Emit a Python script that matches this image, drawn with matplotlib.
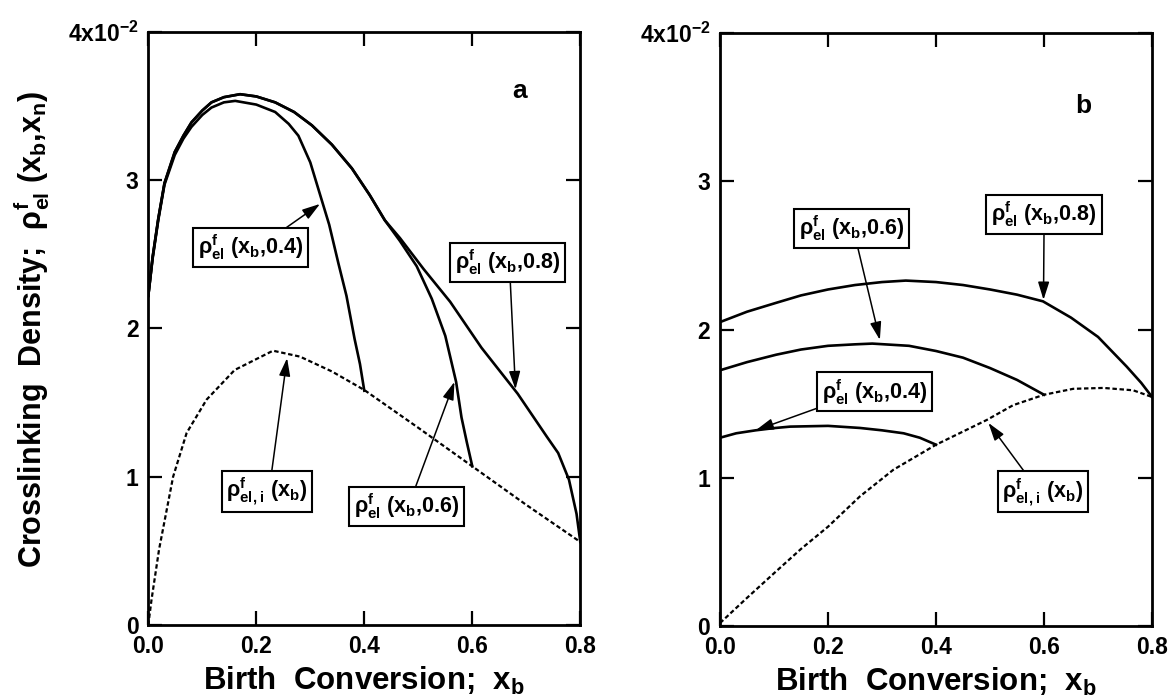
import matplotlib
matplotlib.use('Agg')
import matplotlib.pyplot as plt

plt.rcParams['font.family'] = ['Liberation Sans', 'DejaVu Sans']
plt.rcParams['font.weight'] = 'bold'
plt.rcParams['mathtext.default'] = 'regular'

# ---- panel a ----
a08_x = [0, 0.008, 0.0185, 0.03, 0.049, 0.065, 0.08, 0.1, 0.117, 0.14, 0.17, 0.2, 0.235,
         0.27, 0.303, 0.34, 0.377, 0.41, 0.438, 0.466, 0.51, 0.559, 0.617, 0.684, 0.738,
         0.759, 0.779, 0.793, 0.8]
a08_y = [2.22, 2.48, 2.74, 2.98, 3.19, 3.30, 3.39, 3.47, 3.525, 3.56, 3.58, 3.565, 3.525,
         3.46, 3.37, 3.24, 3.08, 2.90, 2.73, 2.61, 2.40, 2.18, 1.87, 1.56, 1.27,
         1.16, 0.98, 0.75, 0.56]

a06_x = [0, 0.008, 0.0185, 0.03, 0.049, 0.065, 0.08, 0.1, 0.117, 0.14, 0.17, 0.2, 0.235,
         0.27, 0.303, 0.34, 0.377, 0.41, 0.438, 0.466, 0.497, 0.525, 0.55, 0.57, 0.58,
         0.59, 0.6]
a06_y = [2.22, 2.48, 2.74, 2.98, 3.19, 3.30, 3.39, 3.47, 3.525, 3.56, 3.58, 3.565, 3.525,
         3.46, 3.37, 3.24, 3.08, 2.90, 2.73, 2.59, 2.42, 2.20, 1.95, 1.64, 1.40,
         1.23, 1.07]

a04_x = [0, 0.008, 0.0185, 0.03, 0.049, 0.065, 0.08, 0.1, 0.117, 0.14, 0.161, 0.2, 0.235,
         0.26, 0.278, 0.3, 0.315, 0.335, 0.352, 0.367, 0.382, 0.392, 0.4]
a04_y = [2.22, 2.47, 2.73, 2.97, 3.17, 3.28, 3.36, 3.44, 3.49, 3.525, 3.535, 3.51, 3.46,
         3.38, 3.30, 3.12, 2.94, 2.70, 2.44, 2.22, 1.93, 1.76, 1.58]

ai_x = [0, 0.006, 0.02, 0.046, 0.071, 0.108, 0.16, 0.231, 0.281, 0.34, 0.4, 0.5, 0.6,
        0.7, 0.8]
ai_y = [0, 0.17, 0.51, 1.0, 1.295, 1.52, 1.72, 1.85, 1.81, 1.71, 1.585, 1.33, 1.07,
        0.81, 0.56]

# ---- panel b ----
b08_x = [0, 0.05, 0.104, 0.15, 0.2, 0.25, 0.3, 0.344, 0.4, 0.45, 0.5, 0.55, 0.598, 0.65,
         0.7, 0.753, 0.78, 0.8]
b08_y = [2.05, 2.12, 2.18, 2.23, 2.27, 2.30, 2.32, 2.33, 2.32, 2.30, 2.27, 2.235, 2.19, 2.08,
         1.95, 1.75, 1.64, 1.545]

b06_x = [0, 0.05, 0.104, 0.15, 0.2, 0.25, 0.282, 0.35, 0.4, 0.45, 0.5, 0.55, 0.6]
b06_y = [1.725, 1.78, 1.83, 1.865, 1.89, 1.90, 1.905, 1.89, 1.855, 1.81, 1.74, 1.66, 1.56]

b04_x = [0, 0.03, 0.066, 0.1, 0.13, 0.2, 0.259, 0.3, 0.34, 0.37, 0.4]
b04_y = [1.27, 1.30, 1.32, 1.335, 1.345, 1.35, 1.336, 1.32, 1.30, 1.27, 1.223]

bi_x = [0, 0.05, 0.1, 0.15, 0.2, 0.259, 0.321, 0.4, 0.494, 0.543, 0.6, 0.654, 0.71, 0.765,
        0.8]
bi_y = [0.02, 0.19, 0.356, 0.52, 0.67, 0.874, 1.054, 1.223, 1.39, 1.49, 1.56, 1.60, 1.606,
        1.59, 1.545]

xticks = [0, 0.2, 0.4, 0.6, 0.8]
xtick_labels = ['0.0', '0.2', '0.4', '0.6', '0.8']
yticks = [0, 1, 2, 3, 4]
ytick_labels = ['0', '1', '2', '3', '4x10$^{-2}$']

lab04 = r'$\rho^{f}_{el}$ (x$_b$,0.4)'
lab06 = r'$\rho^{f}_{el}$ (x$_b$,0.6)'
lab08 = r'$\rho^{f}_{el}$ (x$_b$,0.8)'
labi = r'$\rho^{f}_{el,i}$ (x$_b$)'

fig = plt.figure(figsize=(11.74, 6.99), dpi=100)
ax1 = fig.add_axes([0.1263, 0.1059, 0.368, 0.8484])
ax2 = fig.add_axes([0.6133, 0.1044, 0.368, 0.8484])

solid = dict(color='black', lw=1.9)
dotted = dict(color='black', lw=1.6, ls=(0, (2.0, 1.2)))

ax1.plot(a08_x, a08_y, **solid)
ax1.plot(a06_x, a06_y, **solid)
ax1.plot(a04_x, a04_y, **solid)
ax1.plot(ai_x, ai_y, **dotted)

ax2.plot(b08_x, b08_y, **solid)
ax2.plot(b06_x, b06_y, **solid)
ax2.plot(b04_x, b04_y, **solid)
ax2.plot(bi_x, bi_y, **dotted)


def note(ax, text, tip, center, rel):
    ax.annotate(text, xy=tip, xytext=center, ha='center', va='center',
                fontsize=15.5, fontweight='bold',
                bbox=dict(boxstyle='square,pad=0.22', fc='white', ec='black', lw=1.5),
                arrowprops=dict(arrowstyle='-|>,head_length=0.7,head_width=0.22',
                                color='black', lw=1.1, shrinkA=0, shrinkB=0,
                                relpos=rel))


note(ax1, lab04, (0.318, 2.84), (0.189, 2.545), (0.77, 1))
note(ax1, lab08, (0.68, 1.59), (0.666, 2.445), (0.52, 0))
note(ax1, labi, (0.257, 1.80), (0.22, 0.90), (0.55, 1))
note(ax1, lab06, (0.567, 1.64), (0.478, 0.80), (0.57, 1))

note(ax2, lab06, (0.296, 1.93), (0.2435, 2.68), (0.55, 0))
note(ax2, lab08, (0.599, 2.20), (0.60, 2.775), (0.5, 0))
note(ax2, lab04, (0.066, 1.32), (0.286, 1.58), (0, 0))
note(ax2, labi, (0.497, 1.37), (0.598, 0.905), (0.31, 1))

ax1.text(0.687, 3.60, 'a', fontsize=19, fontweight='bold', ha='center', va='center')
ax2.text(0.673, 3.51, 'b', fontsize=19, fontweight='bold', ha='center', va='center')

for ax in (ax1, ax2):
    ax.set_xlim(0, 0.8)
    ax.set_ylim(0, 4)
    ax.set_xticks(xticks)
    ax.set_xticklabels(xtick_labels)
    ax.set_yticks(yticks)
    ax.set_yticklabels(ytick_labels)
    ax.tick_params(direction='in', top=True, right=True, length=10, width=1.6,
                   labelsize=16.5, pad=7)
    for s in ax.spines.values():
        s.set_linewidth(2.0)
    ax.set_xlabel('Birth  Conversion;  x$_b$', fontsize=22.5, fontweight='bold', labelpad=5)

fig.text(32 / 1174, 0.528, r'Crosslinking  Density;  $\rho^{f}_{el}$ (x$_b$,x$_n$)',
         rotation=90, ha='center', va='center', fontsize=22, fontweight='bold')

fig.savefig('out.png', dpi=100)
